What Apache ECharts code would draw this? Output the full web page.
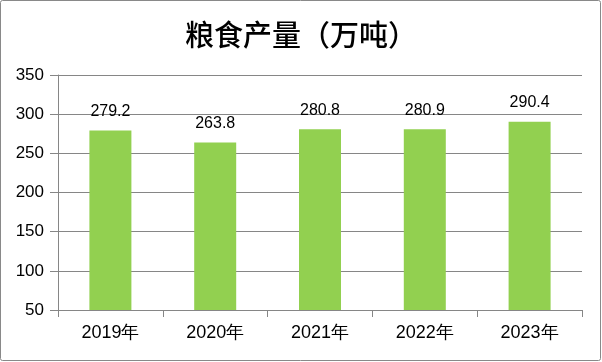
<!DOCTYPE html>
<html>
<head>
<meta charset="utf-8">
<script src="https://cdn.jsdelivr.net/npm/echarts@6/dist/echarts.min.js"></script>
<style>
html,body{margin:0;padding:0;background:#fff;}
#c{width:602px;height:362px;}
</style>
</head>
<body>
<div id="c"></div>
<script>
const titleText = '粮食产量（万吨）';
const categories = ['2019年', '2020年', '2021年', '2022年', '2023年'];
const values = [279.2, 263.8, 280.8, 280.9, 290.4];
const yMin = 50, yMax = 350, yInterval = 50;

const chart = echarts.init(document.getElementById('c'), null, {renderer: 'canvas'});
chart.setOption({
  animation: false,
  backgroundColor: '#fff',
  title: {
    text: titleText,
    left: 'center',
    top: 15,
    textStyle: {fontFamily: 'Noto Sans CJK SC', fontSize: 29, fontWeight: 500, color: '#000'}
  },
  graphic: [{
    type: 'rect',
    shape: {x: 0.5, y: 0.5, width: 600, height: 360, r: 2},
    style: {fill: 'none', stroke: '#898989', lineWidth: 1},
    silent: true
  }],
  grid: {left: 58, right: 20, top: 75, bottom: 52, containLabel: false},
  xAxis: {
    type: 'category',
    data: categories,
    boundaryGap: true,
    axisLine: {show: true, lineStyle: {color: '#868686', width: 1}},
    axisTick: {show: true, length: 7, alignWithLabel: false, lineStyle: {color: '#868686'}},
    axisLabel: {color: '#000', fontSize: 18, fontFamily: 'Liberation Sans', margin: 14}
  },
  yAxis: {
    type: 'value',
    min: yMin, max: yMax, interval: yInterval,
    axisLine: {show: true, lineStyle: {color: '#868686', width: 1}},
    axisTick: {show: true, length: 8, lineStyle: {color: '#868686'}},
    splitLine: {show: true, lineStyle: {color: '#868686', width: 1}},
    axisLabel: {color: '#000', fontSize: 17, fontFamily: 'Liberation Sans', margin: 14}
  },
  series: [{
    type: 'bar',
    data: values,
    barWidth: 42,
    itemStyle: {color: '#92D050'},
    label: {
      show: true,
      position: 'top',
      distance: 11,
      color: '#000',
      fontSize: 16,
      fontFamily: 'Liberation Sans'
    }
  }]
});
</script>
</body>
</html>
